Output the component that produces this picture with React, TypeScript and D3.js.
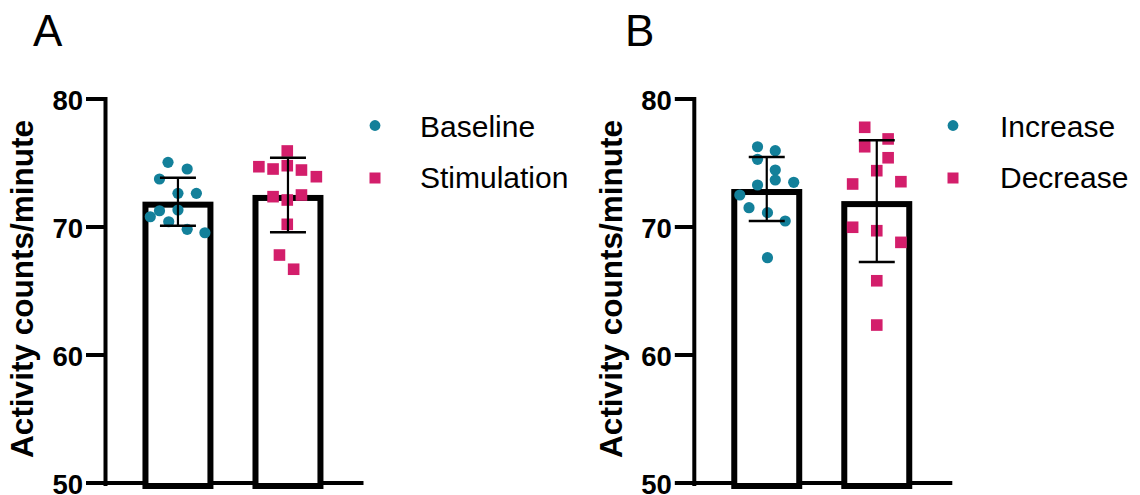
import React from "react";
import * as d3 from "d3";

// ---- data ----
const yTicks = [50, 60, 70, 80];
const yDomain = [50, 80];
const yTitle = "Activity counts/minute";

const panelLabels = ["A", "B"];
const categoriesA = ["Baseline", "Stimulation"];
const categoriesB = ["Increase", "Decrease"];

const baseline = [75.05, 74.53, 73.75, 72.63, 72.63, 71.27, 71.33, 70.8, 70.41, 69.82, 69.55];
const stimulation = [74.71, 74.53, 75.94, 74.79, 74.45, 73.93, 72.37, 72.11, 72.5, 70.21, 67.81, 66.7];
const increase = [76.27, 75.96, 75.29, 74.45, 73.67, 73.28, 73.49, 72.5, 71.51, 71.12, 70.47, 67.6];
const decrease = [77.79, 76.88, 76.27, 75.41, 74.4, 73.36, 73.54, 69.98, 69.71, 68.8, 65.8, 62.34];

// horizontal jitter of each point, as a fraction of the bar width
const jitterBaseline = [-0.14, 0.13, -0.26, 0, 0.26, -0.26, 0, -0.39, -0.13, 0.13, 0.38];
const jitterStimulation = [-0.41, -0.21, -0.01, -0.01, 0.19, 0.4, -0.21, -0.01, 0.19, -0.01, -0.12, 0.08];
const jitterIncrease = [-0.13, 0.12, -0.13, 0.12, 0.12, -0.13, 0.38, -0.38, -0.25, 0.01, 0.26, 0.01];
const jitterDecrease = [-0.17, 0.16, -0.17, 0.16, 0, -0.34, 0.34, -0.34, 0, 0.34, 0, 0];

// ---- style ----
const TEAL = "#13809a";
const PINK = "#d31e6b";
const FONT = "'Liberation Sans', Arial, Helvetica, sans-serif";

const panels = [
  {
    label: panelLabels[0],
    labelX: 33,
    axisX: 105.5,
    cats: categoriesA,
    series: [baseline, stimulation],
    jitter: [jitterBaseline, jitterStimulation],
    legendMarkX: 375,
    legendTextX: 420,
  },
  {
    label: panelLabels[1],
    labelX: 625,
    axisX: 694.3,
    cats: categoriesB,
    series: [increase, decrease],
    jitter: [jitterIncrease, jitterDecrease],
    legendMarkX: 953,
    legendTextX: 1000,
  },
];

const colors = [TEAL, PINK];
const AXIS_LEN = 258;
const BAR_STROKE = 6;

const y = d3.scaleLinear().domain(yDomain).range([483, 99]);

function Panel({ p }: { p: (typeof panels)[number] }) {
  const x = d3
    .scaleBand<string>()
    .domain(p.cats)
    .range([p.axisX, p.axisX + AXIS_LEN])
    .paddingInner(0.355)
    .paddingOuter(0.35)
    .align(0.48);
  const bw = x.bandwidth();
  const legendY = [125.5, 178];
  const legendTextY = [136.7, 188.3];

  return (
    <g>
      <text x={p.labelX} y={46} fontSize={44} fontFamily={FONT} fill="#000">
        {p.label}
      </text>
      {/* y title */}
      <text
        transform={`translate(${p.axisX - 72.5},${289}) rotate(-90)`}
        textAnchor="middle"
        fontSize={31.5}
        fontWeight="bold"
        fontFamily={FONT}
        fill="#000"
      >
        {yTitle}
      </text>
      {/* axes */}
      <line x1={p.axisX} x2={p.axisX} y1={y(80) - 2} y2={y(50) + 3} stroke="#000" strokeWidth={4} />
      <line x1={p.axisX - 2} x2={p.axisX + AXIS_LEN} y1={y(50)} y2={y(50)} stroke="#000" strokeWidth={4} />
      {yTicks.map((t) => (
        <g key={t}>
          <line x1={p.axisX - 19.5} x2={p.axisX} y1={y(t)} y2={y(t)} stroke="#000" strokeWidth={4} />
          <text
            x={p.axisX - 22.5}
            y={y(t) + 10.5}
            textAnchor="end"
            fontSize={27.5}
            fontWeight="bold"
            fontFamily={FONT}
            fill="#000"
          >
            {t}
          </text>
        </g>
      ))}
      {/* bars */}
      {p.cats.map((c, i) => {
        const m = d3.mean(p.series[i]) as number;
        const x0 = x(c) as number;
        return (
          <rect
            key={c}
            x={x0 + BAR_STROKE / 2}
            y={y(m) + BAR_STROKE / 2}
            width={bw - BAR_STROKE}
            height={y(50) - y(m)}
            fill="#fff"
            stroke="#000"
            strokeWidth={BAR_STROKE}
          />
        );
      })}
      {/* points */}
      {p.cats.map((c, i) => {
        const cx = (x(c) as number) + bw / 2;
        return (
          <g key={c}>
            {p.series[i].map((v, j) => {
              const px = cx + p.jitter[i][j] * bw;
              return i === 0 ? (
                <circle key={j} cx={px} cy={y(v)} r={5.6} fill={colors[i]} />
              ) : (
                <rect key={j} x={px - 5.8} y={y(v) - 5.8} width={11.6} height={11.6} fill={colors[i]} />
              );
            })}
          </g>
        );
      })}
      {/* error bars */}
      {p.cats.map((c, i) => {
        const m = d3.mean(p.series[i]) as number;
        const sd = d3.deviation(p.series[i]) as number;
        const cx = (x(c) as number) + bw / 2;
        return (
          <g key={c} stroke="#000">
            <line x1={cx} x2={cx} y1={y(m - sd)} y2={y(m + sd)} strokeWidth={2.2} />
            <line x1={cx - 18} x2={cx + 18} y1={y(m + sd)} y2={y(m + sd)} strokeWidth={2.5} />
            <line x1={cx - 18} x2={cx + 18} y1={y(m - sd)} y2={y(m - sd)} strokeWidth={2.5} />
          </g>
        );
      })}
      {/* legend */}
      {p.cats.map((c, i) => (
        <g key={c}>
          {i === 0 ? (
            <circle cx={p.legendMarkX} cy={legendY[i]} r={5.4} fill={colors[i]} />
          ) : (
            <rect x={p.legendMarkX - 5.5} y={legendY[i] - 5.5} width={11} height={11} fill={colors[i]} />
          )}
          <text x={p.legendTextX} y={legendTextY[i]} fontSize={30} fontFamily={FONT} fill="#000">
            {c}
          </text>
        </g>
      ))}
    </g>
  );
}

export default function App() {
  return (
    <svg
      width={1140}
      height={495}
      viewBox="0 0 1140 495"
      style={{ position: "absolute", left: 0, top: 0, background: "#fff" }}
    >
      {panels.map((p) => (
        <Panel key={p.label} p={p} />
      ))}
    </svg>
  );
}
